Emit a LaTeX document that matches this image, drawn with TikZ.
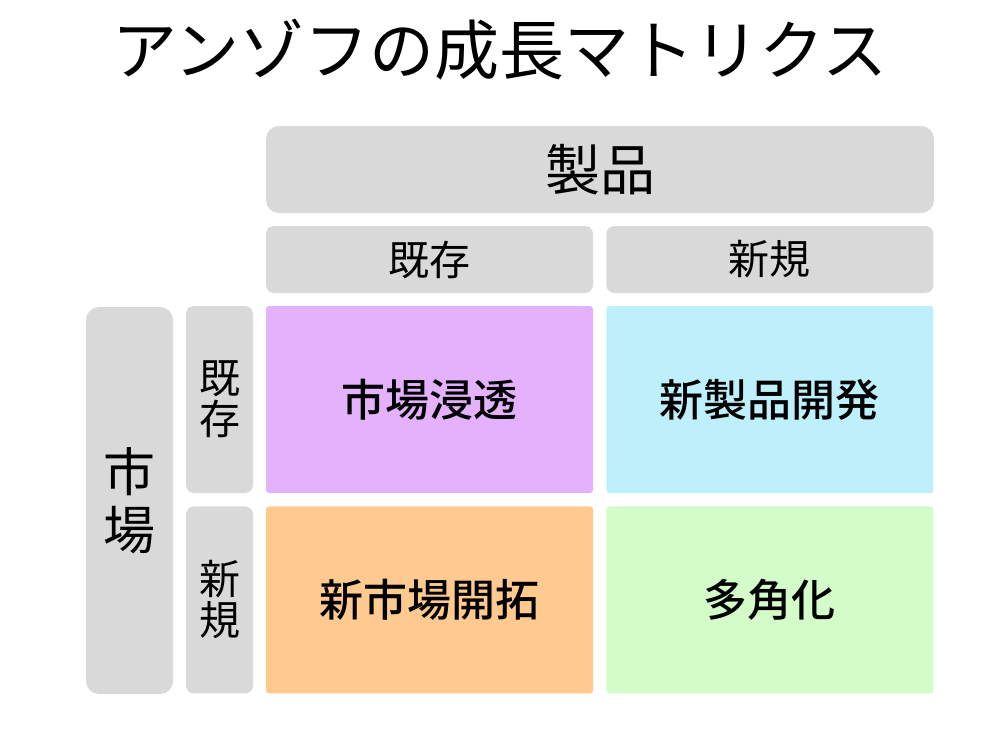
\documentclass[tikz,border=0pt]{standalone}
\usepackage{fontspec}
\setmainfont{Noto Sans CJK JP}[BoldFont={Noto Sans CJK JP Medium}]
\usetikzlibrary{positioning}
\definecolor{boxgray}{RGB}{217,217,217}
\definecolor{penpurple}{RGB}{228,177,252}
\definecolor{devcyan}{RGB}{190,240,252}
\definecolor{mktorange}{RGB}{254,202,144}
\definecolor{divgreen}{RGB}{212,252,200}
\tikzset{head box/.style={rectangle,fill=boxgray,rounded corners=8pt,inner sep=0pt,align=center},
         big head/.style={head box,rounded corners=13pt},
         cell/.style={rectangle,rounded corners=3pt,inner sep=0pt,minimum width=327pt,minimum height=187pt,
                      font=\fontsize{44}{50}\selectfont\bfseries},
         col head/.style={head box,minimum width=327pt,minimum height=67pt,font=\fontsize{41}{41}\selectfont},
         row head/.style={head box,minimum width=67pt,minimum height=187pt,font=\fontsize{41}{41}\selectfont},
}

\begin{document}
\begin{tikzpicture}[x=1pt,y=-1pt]

\useasboundingbox (0,0) rectangle (1000,750);

\node (title) at (500,50) {\fontsize{65}{65}\selectfont アンゾフの成長マトリクス};

% product axis
\node[big head,minimum width=668pt,minimum height=87pt,font=\fontsize{55}{55}\selectfont] (product) at (600,169.5) {製品};
\node[col head] (pold) at (429.5,259.5) {既存};
\node[col head,right=13pt of pold] (pnew) {新規};

% market axis
\node[big head,minimum width=87pt,minimum height=387pt,font=\fontsize{52}{58}\selectfont] (market) at (129.5,500.5) {市\\場};
\node[row head] (mold) at (219.5,399.5) {既\\存};
\node[row head,below=13pt of mold] (mnew) {新\\規};

% matrix
\node[cell,fill=penpurple] (pen) at (429.5,399.5) {市場浸透};
\node[cell,fill=devcyan,right=13pt of pen] (dev) {新製品開発};
\node[cell,fill=mktorange,below=13pt of pen] (mkt) {新市場開拓};
\node[cell,fill=divgreen,right=13pt of mkt] (div) {多角化};

\end{tikzpicture}
\end{document}
